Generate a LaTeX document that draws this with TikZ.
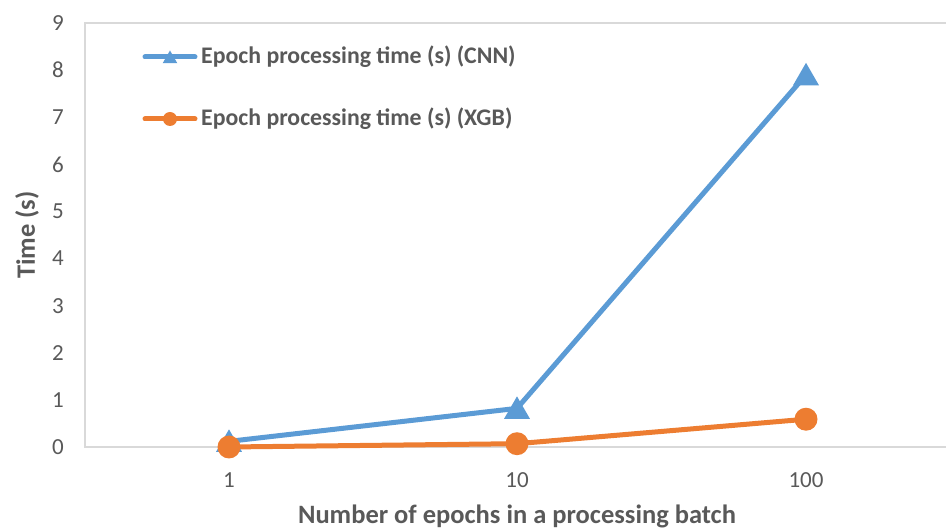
\documentclass[tikz,border=0pt]{standalone}
\usepackage{fontspec}
\setmainfont{Carlito}
\usetikzlibrary{shapes.geometric}
\definecolor{cnn}{HTML}{5B9BD5}
\definecolor{xgb}{HTML}{ED7D31}
\definecolor{axisgray}{HTML}{D9D9D9}
\definecolor{txt}{HTML}{595959}
\tikzset{
  axisline/.style={draw=axisgray, line width=2pt},
  ticklab/.style={text=txt, font=\fontsize{23}{27}\selectfont, inner sep=0pt},
  titlelab/.style={text=txt, font=\fontsize{26.5}{30}\selectfont\bfseries, inner sep=0pt},
  leglab/.style={text=txt, font=\fontsize{23.8}{28}\selectfont\bfseries, inner sep=0pt, anchor=west},
  cnnline/.style={draw=cnn, line width=5pt, line cap=round, line join=round},
  xgbline/.style={draw=xgb, line width=5pt, line cap=round, line join=round},
  cnnmark/.style={regular polygon, regular polygon sides=3, fill=cnn, inner sep=0pt, minimum size=#1},
  xgbmark/.style={circle, fill=xgb, inner sep=0pt, minimum size=#1},
}
\begin{document}
\begin{tikzpicture}[x=1pt,y=-1pt]
\useasboundingbox (0,0) rectangle (946,529);
% plot area border
\coordinate (tl) at (85,23);
\coordinate (bl) at (85,447);
\coordinate (tr) at (946,23);
\coordinate (br) at (946,447);
\draw[axisline] (tr) -- (tl) -- (bl) -- (br);
% y tick labels
\foreach \k in {0,...,9}{
  \node[ticklab, anchor=east] (y\k) at (64,{447-47.11*\k}) {\k};
}
% x tick labels
\node[ticklab] (x1) at (229,480) {1};
\node[ticklab] (x10) at (517,480) {10};
\node[ticklab] (x100) at (806,480) {100};
% axis titles
\node[titlelab, rotate=90] (ytitle) at (27,235) {Time (s)};
\node[titlelab] (xtitle) at (517,516) {Number of epochs in a processing batch};
% data
\coordinate (c1) at (229,{447-47.11*0.12});
\coordinate (c2) at (517,{447-47.11*0.82});
\coordinate (c3) at (806,{447-47.11*7.9});
\coordinate (g1) at (229,{447-47.11*0.0});
\coordinate (g2) at (517,{447-47.11*0.07});
\coordinate (g3) at (806,{447-47.11*0.59});
\draw[cnnline] (c1) -- (c2) -- (c3);
\draw[xgbline] (g1) -- (g2) -- (g3);
\foreach \p in {c1,c2,c3}{
  \node[cnnmark=30pt, yshift=-3pt] at (\p) {};
}
\foreach \p in {g1,g2,g3}{
  \node[xgbmark=23pt] at (\p) {};
}
% legend
\coordinate (l1a) at (145,57);
\coordinate (l1b) at (195,57);
\coordinate (l2a) at (145,119);
\coordinate (l2b) at (195,119);
\draw[cnnline] (l1a) -- (l1b);
\node[cnnmark=17pt, yshift=-2pt] (lm1) at (170,57) {};
\draw[xgbline] (l2a) -- (l2b);
\node[xgbmark=14pt] (lm2) at (170,119) {};
\node[leglab] (lt1) at (201,57) {Epoch processing time (s) (CNN)};
\node[leglab] (lt2) at (201,119) {Epoch processing time (s) (XGB)};
\end{tikzpicture}
\end{document}
